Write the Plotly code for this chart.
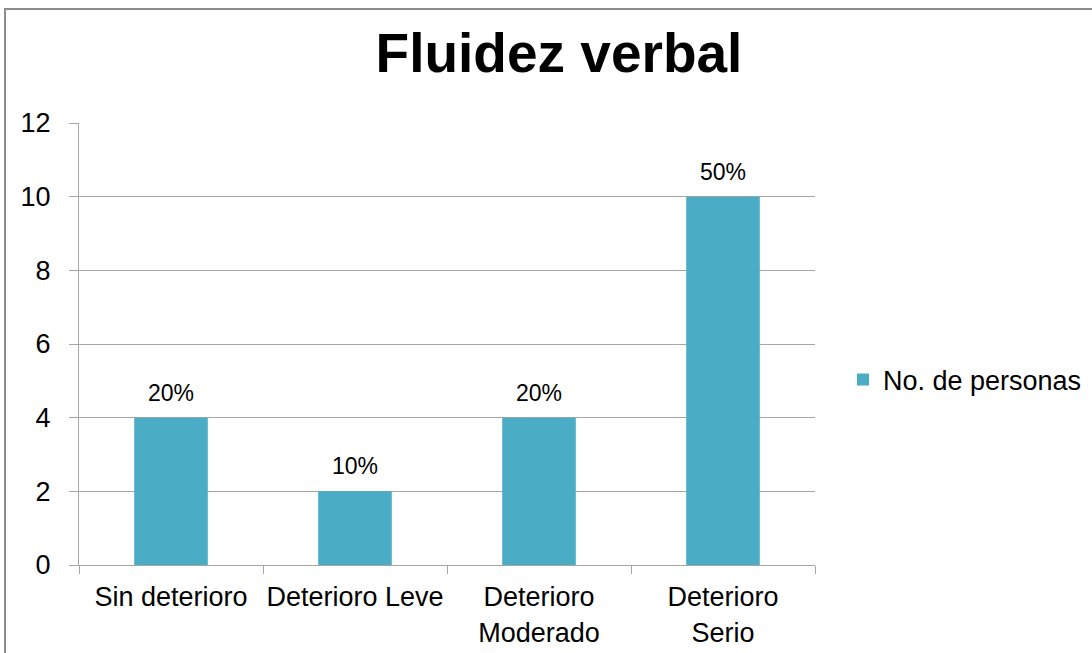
import plotly.graph_objects as go

categories = ["Sin deterioro", "Deterioro Leve", "Deterioro<br>Moderado", "Deterioro<br>Serio"]
values = [4, 2, 4, 10]
pct_labels = ["20%", "10%", "20%", "50%"]
y_ticks = [0, 2, 4, 6, 8, 10, 12]

FONT = "Liberation Sans, Arial, sans-serif"
BAR = "#4BACC6"
GRID = "#A6A6A6"

fig = go.Figure()
fig.add_trace(go.Bar(
    x=categories, y=values, name="No. de personas",
    marker=dict(color=BAR, line=dict(width=0)), width=0.4,
))

for c, v, t in zip(categories, values, pct_labels):
    fig.add_annotation(x=c, y=v, text=t, showarrow=False, yanchor="middle",
                       yshift=25, font=dict(family=FONT, size=23, color="#000"))

L, R, T, B = 79, 815, 123, 565
W, H = 1092, 653
pw, ph = R - L, B - T

def px(x):
    return (x - L) / pw

def py(y):
    return (B - y) / ph

fig.add_shape(type="rect", xref="paper", yref="paper",
              x0=px(5), x1=px(1200), y0=py(9), y1=py(800),
              line=dict(color="#8C8C8C", width=2), fillcolor="rgba(0,0,0,0)", layer="below")

fig.update_layout(
    width=W, height=H,
    margin=dict(l=L, r=W - R, t=T, b=H - B, autoexpand=False),
    paper_bgcolor="white", plot_bgcolor="white",
    title=dict(text="<b>Fluidez verbal</b>", x=559 / W, xanchor="center",
               y=1 - 53 / H, yanchor="middle",
               font=dict(family=FONT, size=55, color="#000")),
    showlegend=True,
    legend=dict(x=px(843), y=py(380), xanchor="left", yanchor="middle",
                font=dict(family=FONT, size=27, color="#000"),
                itemwidth=30, bgcolor="rgba(0,0,0,0)"),
    xaxis=dict(
        type="category", showgrid=False, showline=True, linecolor=GRID, linewidth=1,
        ticks="outside", tickson="boundaries", ticklen=8, tickcolor=GRID,
        tickangle=0, automargin=False, ticklabelstandoff=8,
        tickfont=dict(family=FONT, size=27, color="#000"),
        range=[-0.5, 3.5],
    ),
    yaxis=dict(
        range=[0, 12], tickvals=y_ticks, showgrid=True, gridcolor=GRID, gridwidth=1,
        showline=True, linecolor=GRID, linewidth=1, zeroline=False, automargin=False,
        ticks="outside", ticklen=9, tickcolor=GRID, ticklabelstandoff=13,
        tickfont=dict(family=FONT, size=27, color="#000"),
    ),
    font=dict(family=FONT),
)

fig.write_html("out.html", config={"displayModeBar": False},
               post_script="document.body.style.margin='0';document.body.style.padding='0';")
